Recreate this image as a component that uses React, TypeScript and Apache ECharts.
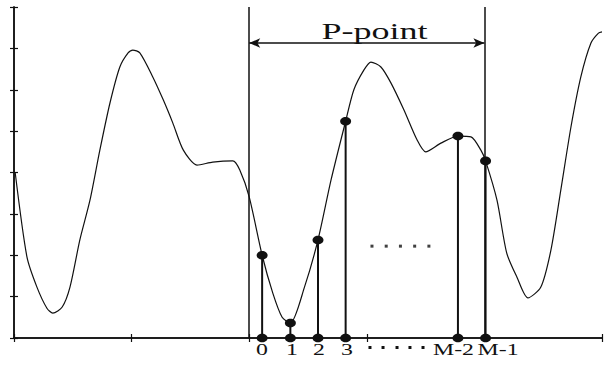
import React, { useEffect, useRef } from "react";
import * as echarts from "echarts";

// Continuous waveform: [x, y]
const curvePoints: [number, number][] = [
  [1, 4.0], [11, 1.96], [19.5, 1.23], [28, 0.72], [33, 0.6], [41, 0.75],
  [47.6, 1.23], [56, 2.37], [64.6, 3.33], [73, 4.54], [81.6, 5.68], [90, 6.55],
  [97, 6.89], [101, 6.96], [107, 6.89], [118, 6.31], [127, 5.75], [135, 5.2],
  [144, 4.54], [155.6, 4.18], [169, 4.25], [186, 4.28], [192, 4.06], [200, 3.41],
  [211, 2.0], [220, 1.09], [228, 0.5], [235, 0.36], [247, 1.23], [258.5, 2.37],
  [269.6, 3.82], [282, 5.24], [289, 6.0], [297.6, 6.48], [303.5, 6.67], [312, 6.55],
  [320.6, 6.16], [331.6, 5.51], [342.7, 4.79], [350, 4.5], [363, 4.71], [377.5, 4.88],
  [388.6, 4.86], [397, 4.54], [401, 4.28], [410.7, 3.33], [419, 2.05], [427.7, 1.47],
  [437, 0.97], [448, 1.23], [456.6, 2.13], [465, 3.58], [473.6, 5.1], [482, 6.31],
  [490.6, 7.13], [497, 7.37], [500, 7.4],
];

// Sampled points (stems)
const sampleX = [211, 235, 258.5, 282, 377.5, 401];
const sampleY = [2.0, 0.36, 2.37, 5.24, 4.88, 4.28];
const sampleLabels = ["0", "1", "2", "3", "M-2", "M-1"];
const sampleLabelX = [210.9, 236.4, 259.3, 283.1, 373.7, 411.6];

// Window boundaries of the P-point segment
const windowStart = 200;
const windowEnd = 400;
const arrowY = 7.13;
const windowTitle = "P-point";
const windowTitleX = 306.5;

// Ellipsis dots: inside the plot and in the bottom label row
const plotDotsX = [304.4, 316.5, 328.6, 340.7, 352.8];
const plotDotsY = 2.22;
const labelDotsX = [302.7, 313.8, 325.7, 336.7, 347.8];

const X_MIN = 0, X_MAX = 500, X_INT = 100;
const Y_MIN = 0, Y_MAX = 8, Y_INT = 1;

const INK = "#111";
const SERIF = "'Liberation Serif', 'DejaVu Serif', serif";

export default function App() {
  const ref = useRef<HTMLDivElement>(null);

  useEffect(() => {
    document.body.style.margin = "0";
    if (!ref.current) return;
    const chart = echarts.init(ref.current, undefined, { renderer: "svg" });

    const axisCommon = {
      type: "value" as const,
      axisLine: { show: true, lineStyle: { color: INK, width: 1.5 } },
      axisTick: { show: true, inside: true, length: 4, lineStyle: { color: INK, width: 1.2 } },
      axisLabel: { show: false },
      splitLine: { show: false },
    };

    chart.setOption({
      animation: false,
      backgroundColor: "#fff",
      grid: { left: 14, right: 7, top: 7, bottom: 29, containLabel: false },
      xAxis: [
        { ...axisCommon, min: X_MIN, max: X_MAX, interval: X_INT, position: "bottom" },
        { ...axisCommon, min: X_MIN, max: X_MAX, interval: X_INT, position: "top" },
      ],
      yAxis: [
        { ...axisCommon, min: Y_MIN, max: Y_MAX, interval: Y_INT, position: "left" },
        { ...axisCommon, min: Y_MIN, max: Y_MAX, interval: Y_INT, position: "right" },
      ],
      series: [
        {
          type: "line",
          data: curvePoints,
          smooth: 0.25,
          showSymbol: false,
          lineStyle: { color: INK, width: 1.2 },
          silent: true,
          markLine: {
            silent: true,
            symbol: ["none", "none"],
            label: { show: false },
            lineStyle: { color: INK, width: 1.5, type: "solid" },
            data: [
              { xAxis: windowStart },
              { xAxis: windowEnd },
              [
                { coord: [windowStart, arrowY], symbol: "arrow", symbolSize: [7, 11] },
                { coord: [windowEnd, arrowY], symbol: "arrow", symbolSize: [7, 11] },
              ],
            ],
          },
        },
        {
          type: "custom",
          clip: false,
          silent: true,
          data: sampleX.map((x, i) => [x, sampleY[i]]),
          renderItem: (params: any, api: any) => {
            const x = api.value(0);
            const y = api.value(1);
            const top = api.coord([x, y]);
            const bot = api.coord([x, 0]);
            return {
              type: "group",
              children: [
                {
                  type: "line",
                  shape: { x1: bot[0], y1: bot[1], x2: top[0], y2: top[1] },
                  style: { stroke: INK, lineWidth: 2 },
                },
                {
                  type: "ellipse",
                  shape: { cx: top[0], cy: top[1], rx: 5.5, ry: 4.3 },
                  style: { fill: INK },
                },
                {
                  type: "ellipse",
                  shape: { cx: bot[0], cy: bot[1], rx: 5.5, ry: 4.3 },
                  style: { fill: INK },
                },
              ],
            };
          },
        },
        {
          type: "scatter",
          silent: true,
          data: plotDotsX.map((x) => [x, plotDotsY]),
          symbol: "rect",
          symbolSize: [3, 3],
          itemStyle: { color: INK },
        },
      ],
    });

    const px = (x: number, y: number) =>
      chart.convertToPixel({ gridIndex: 0 }, [x, y]) as number[];

    const bottomPx = px(0, 0)[1];
    const labelY = bottomPx + 11;
    const graphics: any[] = [];

    sampleLabelX.forEach((x, i) => {
      const p = px(x, 0);
      graphics.push({
        type: "text",
        x: p[0],
        y: labelY,
        scaleX: 1.4,
        style: {
          text: sampleLabels[i],
          font: `17px ${SERIF}`,
          fill: INK,
          textAlign: "center",
          textVerticalAlign: "middle",
          align: "center",
          verticalAlign: "middle",
        },
        silent: true,
      });
    });

    labelDotsX.forEach((x) => {
      const p = px(x, 0);
      graphics.push({
        type: "rect",
        shape: { x: p[0] - 1.5, y: labelY - 3, width: 3, height: 3 },
        style: { fill: INK },
        silent: true,
      });
    });

    const mid = px(windowTitleX, arrowY);
    graphics.push({
      type: "text",
      x: mid[0],
      y: mid[1] - 12,
      scaleX: 1.5,
      style: {
        text: windowTitle,
        font: `24px ${SERIF}`,
        fill: INK,
        textAlign: "center",
        textVerticalAlign: "middle",
        align: "center",
        verticalAlign: "middle",
      },
      silent: true,
    });

    chart.setOption({ graphic: graphics });

    return () => chart.dispose();
  }, []);

  return <div ref={ref} style={{ width: 609, height: 367 }} />;
}
